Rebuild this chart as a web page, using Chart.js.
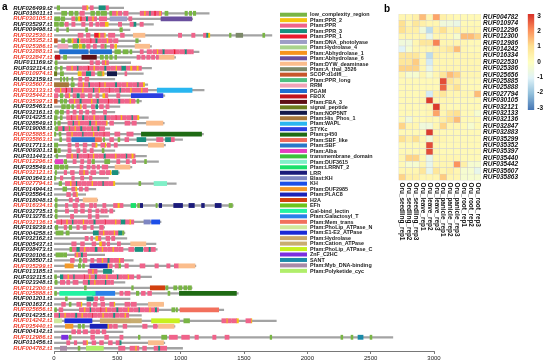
<!DOCTYPE html>
<html><head><meta charset="utf-8">
<script src="https://cdn.jsdelivr.net/npm/chart.js@4.4.1/dist/chart.umd.min.js"></script>
<style>
html,body{margin:0;padding:0;background:#fff;width:550px;height:363px;overflow:hidden}
canvas{position:absolute;top:0}
#ca{left:0}
#cb{left:380px}
#cc{left:520px}
</style></head><body>
<canvas id="ca" width="445" height="363"></canvas>
<canvas id="cb" width="145" height="363"></canvas>
<canvas id="cc" width="30" height="363"></canvas>
<script>
// ---------- Panel a data ----------
const genes = ["RUF026499.t2","RUF018011.t1","RUF030105.t1","RUF035297.t1","RUF009498.t1","RUF022530.t1","RUF035352.t1","RUF025386.t1","RUF032883.t1","RUF032847.t1","RUF011169.t2","RUF032114.t1","RUF010974.t1","RUF032159.t1","RUF035607.t1","RUF032133.t1","RUF035442.t1","RUF035397.t1","RUF035463.t1","RUF032161.t1","RUF014225.t1","RUF028549.t1","RUF019008.t1","RUF025885.t1","RUF035863.t1","RUF017713.t1","RUF009301.t1","RUF011443.t1","RUF012296.t1","RUF035549.t1","RUF032121.t1","RUF003643.t1","RUF027794.t1","RUF014944.t1","RUF035564.t1","RUF018048.t1","RUF016334.t1","RUF032735.t1","RUF013276.t3","RUF032136.t1","RUF019239.t1","RUF004258.t1","RUF032162.t1","RUF005437.t1","RUF038473.t1","RUF030106.t1","RUF038507.t1","RUF035299.t1","RUF013185.t1","RUF032115.t1","RUF023348.t1","RUF012300.t1","RUF025888.t1","RUF001201.t1","RUF001637.t1","RUF025656.t1","RUF014235.t1","RUF014242.t1","RUF035440.t1","RUF004142.t1","RUF012986.t1","RUF011456.t1","RUF004782.t1"];

const proteinLengths = [550,1225,1095,785,600,1720,685,770,1145,960,605,770,705,480,740,1185,875,690,520,480,745,870,440,1180,1015,880,480,730,825,615,515,430,965,330,250,345,1415,480,430,845,400,560,575,805,815,400,625,1120,470,770,560,1090,1455,600,865,1340,690,1755,955,545,2675,875,1015];

const proteinDomains = [
"LC 25 45;P 225 255;P2 255 268;P 285 310;P3 355 405;P 408 430",
"LC 60 100;LC 120 150;LC 165 190;P 205 240;LC 290 320;LC 335 360;LC 370 415;LC 440 455;P 460 490;P2 490 500;P 505 535;P 550 585;P 680 710;P2 710 720;P 720 750;P3 750 760;P 760 790;P1 790 800;P 800 830;P2 830 840;P 840 850;LC 876 900;LC 1034 1053;LC 1069 1087;LC 1100 1119",
"LC 5 45;LC 55 85;P 140 165;LC 170 185;P2 192 205;P1 205 215;P 215 250;P3 250 265;P 265 300;P2 300 310;P 310 337;P 358 416;PH 442 575;P 590 615;A6 845 1088",
"LC 0 35;LC 45 75;P 87 113;P 140 166;P 218 245;P 280 305;P 330 355;P 363 400;P2 402 428;P 508 534;P 600 626;P3 626 647;P 679 705",
"LC 20 35;LC 100 115;LC 250 265;LC 520 540",
"P 190 230;P 255 285;P1 320 350;P2 350 362;P 363 395;P2 395 405;P 430 480;P 525 555;DYW 626 718;P 982 1008;P 1087 1113;P 1180 1200;P3 1200 1215;P2 1215 1230;LC 1385 1398;AT 1437 1490;LC 1648 1664",
"SC 0 26;LC 60 85;LC 110 135;P2 140 150;P 150 180;P3 180 195;P2 195 205;P 210 245;P 250 285;P1 285 292;P 292 325;P3 325 340;P 340 375;P 380 415;P2 415 425;P 425 460;P 470 505;LC 645 665",
"RRM 30 110;LC 150 190;P2 200 218;LC 225 245;P 258 285;P 310 335;P 370 395;LC 400 412;P 445 470;P2 480 495;DYW 640 755",
"PG 45 270;PG 285 455;LC 480 525;LC 545 585;LC 600 615;P 680 705;P 735 770;P 780 810;P2 810 820;P 820 855;P3 855 870;P 870 905;P 910 945;P1 945 955;P 955 990;P 995 1030;P3 1030 1045;P 1045 1080;P 1085 1100",
"FB 10 47;LC 75 100;FA 220 335;LC 365 390;LC 405 425;LC 440 460;LC 480 495;P 655 680;P 692 718;P 732 758;P 770 795;P 808 825;DYW 832 948",
"LC 10 25;P 285 310;P 330 360;P 380 400;P2 400 410;P 410 430",
"LC 10 25;LC 50 65;P 100 135;P2 135 145;P 145 180;P3 180 190;P 190 225;P 230 265;P1 265 275;P 275 310;P2 310 320;P 320 355;P 360 395;P3 395 410;P 410 445;P 450 485;P2 485 495;P 495 530;P3 530 565;P 565 600;P2 600 615;P 615 650;P2 650 665;P 665 690",
"SP 0 22;LC 50 75;P2 190 215;P 220 250;P3 255 290;P 295 320;LC 345 375;P 360 380;P2 380 395;NOP 421 495;P 560 575",
"LC 50 60;LC 75 85;LC 100 110;LC 140 150;P 195 220;P 245 275",
"HP 0 115;LC 135 160;P 190 225;P2 225 235;P 235 270;P3 270 280;P 280 315;P 320 355;P1 355 362;P 362 395;P2 395 405;P 405 440;P 445 480;P3 480 495;P 495 530;P 535 570;P2 570 580;P 580 615;P 620 655;P3 655 665;P 665 700;P2 700 715",
"P 10 45;P2 45 55;P 55 90;P1 90 100;P 100 135;P3 135 145;P 145 180;P 185 220;P2 220 230;P 230 265;P 270 305;P3 305 315;P 315 350;P2 350 360;P 360 395;P 400 435;P1 435 440;P 440 475;P 480 515;P3 515 525;P 525 560;P 565 600;P2 600 610;P 610 645;P 650 685;P2 685 695;P 695 740;WA 815 1090",
"P 0 30;LC 50 70;P 90 115;P2 115 125;P 150 175;P3 180 200;P 210 240;P 270 300;P 330 355;P2 385 400;P 400 425;P 495 520;ST 610 860",
"SC 0 25;LC 50 70;LC 80 100;P 120 155;P2 155 165;P 165 200;P3 200 215;P 215 250;P 255 290;P2 290 300;P 300 335;P3 335 350;P 350 385;P 390 425;P1 425 432;P 432 465;P 470 505;P3 505 520;P 520 555;P 560 595;P2 595 605;P 605 640;LC 655 670",
"LC 60 90;LC 100 125;LC 140 155;P 180 205;P2 205 215;P 230 255;P 295 320;P3 330 345;P 360 390;P 410 435",
"LC 10 35;LC 50 75;P 100 120;P 150 175;P 200 225;P 250 275;P 300 325;P 390 415",
"LC 0 25;LC 50 65;P 100 135;P1 135 140;P 140 175;P2 175 185;P 185 220;P3 220 235;P 235 270;P 275 310;P2 310 320;P 320 355;P 360 395;P3 395 410;P 410 445;P 450 485;P1 485 490;P 490 525;P2 525 535;P 535 570;P 575 610;P3 610 620;P 620 655;P2 655 670",
"LC 0 15;LC 30 50;P 110 145;P3 145 155;P 155 190;P2 190 200;P 200 235;P 240 275;P3 275 290;P 290 325;P2 325 335;P 335 370;P 375 410;P2 410 420;P 440 470;P 560 600;P 615 650;DYW 730 860",
"LC 10 30;P 30 65;P3 65 80;P 80 115;LC 115 125;P 125 160;P2 160 170;P 170 205;P3 205 220;P 220 255;P 260 295;LC 295 305;P 305 340;P3 340 355;P 355 400",
"LC 0 15;LC 40 55;P 100 135;P2 135 145;P 145 180;P 185 220;P3 220 230;P 230 265;P 270 305;P2 305 315;P 315 350;P 355 390;P1 390 395;P 395 440;P 480 520;P 575 625;P450 690 1165",
"LC 45 60;P 100 130;SBF 140 320;SBL 320 375;LC 390 400;P 440 470;LC 505 520;P 560 590;P3 655 725;P 810 860;P3 880 920;P 920 950",
"LC 0 30;P 110 135;P 170 195;P 230 260;P 300 325;P2 325 340;P 370 400;P2 400 410;P 420 445;P 475 500;DYW 745 865",
"SP 0 20;LC 30 50;P 110 135;P 180 205;P 230 255;P 285 310;LC 380 395",
"LC 15 30;P 100 135;P2 135 145;P 145 180;P3 180 190;P 190 225;P 230 265;P1 265 270;P 270 305;P2 305 315;P 315 350;P 355 390;P3 390 405;P 405 440;P 445 480;P2 480 490;P 490 525;P 530 565;P3 565 575;P 575 610;P2 610 625;P 625 640",
"AL 10 70;LC 80 100;P 150 175;P 210 235;P 265 290;LC 300 320;LC 400 440;P 495 520;P 570 595;P 620 645;LC 715 730",
"LC 0 40;LC 50 80;LC 90 110;P 205 230;P 260 285;P 300 325;P 340 360;P 380 400;P 405 425;DYW 482 600",
"LC 10 20;P 80 100;P 130 160;P 200 230;P2 230 240;P 240 270;P 290 330;P 360 400;P 410 440;P2 440 450;P3 460 505",
"LC 0 15;P 50 70;P 140 160;P 210 235;P 280 300",
"LC 40 60;P 90 125;P2 125 135;P 135 170;P3 170 180;P 180 215;P 220 255;P 260 295;P2 295 305;P 305 340;P 345 380;P3 380 390;P 390 425;P 430 465;P2 465 480;LC 670 685;DUF36 790 890",
"LC 70 100;P 140 165;P2 170 180;P 200 225;P 245 270",
"P 100 130;P 150 175;P2 175 185",
"LC 10 25;P 120 145;P 170 195;DYW 230 340",
"LC 10 25;P 90 110;P 150 185;P 210 240;P 280 305;P 315 335;P 385 410;P 470 500;P2 500 515;P 515 545;LRN 608 645;LC 660 675;LRR 680 700;LC 805 815;LRR 830 850;LRR 945 1015;LRR 1065 1108;LRR 1165 1187;LRR 1272 1320;LC 1382 1408",
"LC 10 25;P 90 115;P 160 185;P 210 240;P 270 295;P 330 355;P 370 395;P 400 420;P 440 465",
"LC 10 25;P 130 155;P 270 295;P 330 355",
"P 20 55;P1 55 60;P 60 95;P2 95 105;P 105 140;P3 140 150;P 150 185;P 190 225;P2 225 235;P 235 270;P 275 310;P3 310 325;P 325 360;P 365 400;P1 400 405;P 405 440;P 445 480;P2 480 490;P 490 525;P3 525 560;P 560 595;P2 595 605;P 605 630;BKH 710 760;KH 770 835",
"LC 10 30;P 80 100;LC 120 140;P 180 200;P 230 255;P 290 310;P 360 390",
"LC 15 72;LC 95 120;P3 310 350;P 350 385;P2 385 395;P 395 430;P 435 470;P2 470 480;P 480 505;P3 508 535;LC 540 552",
"P 245 270;P 290 305;P2 330 345;P 345 370;P 410 440;P 455 480",
"P 140 175;P 210 240;P 300 330;P2 360 375;P 375 405;P 420 440;P 500 525;DYW 605 725",
"LC 125 140;P 140 175;P3 175 200;P 200 235;P2 235 245;P 245 280;P 285 320;P3 320 340;P 340 375;P2 375 385;P 385 420;P 425 460;P2 460 470;P 470 505;P 510 545;P 590 630;P3 640 700;P 710 745;P3 745 760;P 760 800",
"LC 15 70;LC 75 100;P 165 175;P2 175 185;P 185 210;P3 210 225;P 225 258",
"P 130 160;LC 200 215;P 230 260;P 290 315;P 340 375;P2 375 385;P 385 420;P3 420 435;P 435 470;P 475 510;P2 510 520;P 520 550",
"DUF29 87 153;LC 192 211;LC 226 240;PLA 284 421;P2 421 430;P 430 460;P 482 508;LC 508 526;P 560 587;P 679 718;P 797 824;P 890 916;P 950 980;DYW 982 1113",
"P 270 300;P2 300 310;P 310 340;P3 390 455",
"LC 5 20;P3 50 70;P 70 105;P2 105 115;P 115 150;P3 150 160;P 160 195;P 200 235;P1 235 240;P 240 275;P2 275 285;P 285 320;P3 320 335;P 335 370;P 375 410;P2 410 420;P 420 455;P 460 495;P3 495 505;P 505 540;P 545 580;P2 580 590;P 590 630;P 655 680",
"LC 8 25;P 50 85;P 100 125;P 150 190;P 230 265;P3 265 280;P 280 315;P2 315 325;P 325 360;P 365 400;P3 400 410;P 410 445;P 450 470",
"LC 240 255;LC 613 626;H2A 760 875;LC 882 900;LC 945 970;LC 985 1010;LC 1025 1050;LC 1060 1085",
"LC 5 20;GAL 45 325;GT 305 480;P 520 545;P 560 600;LC 650 670;P 690 720;P 740 770;LC 900 915;P450 990 1440",
"LC 90 105;P3 260 310;P 320 345;P 365 395",
"P 60 90;LC 120 135;P 180 210;P2 210 220;P 260 290;P 310 340;P 370 400;P 440 470;P2 470 480;P 560 600;P 610 650;DYW 745 865",
"LC 5 20;P 40 70;P 200 235;P2 235 245;P 245 280;P3 280 290;P 290 325;P 330 365;P1 365 370;P 370 405;P2 405 415;P 415 450;P 455 490;P3 490 505;P 505 540;P 545 580;P2 580 590;P 590 625;P 630 665;P3 665 675;P 675 710;P 715 750;P2 750 760;P 760 795;P3 795 810;P 810 825;LC 930 955;LC 965 975;MT 995 1300",
"P 0 35;P3 35 45;P 45 80;P2 80 90;P 90 125;P 130 165;P3 165 180;P 180 215;P2 215 225;P 225 260;P 265 300;P1 300 305;P 305 340;P 345 380;P2 380 390;P 390 425;P 430 465;P3 465 480;P 480 515;P 520 555;P2 555 565;P 565 590",
"PAN 0 60;E12 85 300;HY 365 600;CA 600 690;PAC 770 990;LC 1025 1070;P 1325 1360;P2 1360 1368;P 1368 1400;P 1405 1440;P2 1440 1456;P 1515 1555;P2 1555 1562",
"DUF29 90 150;LC 190 210;LC 225 240;PLA 285 420;P2 420 430;P 430 460;P 470 500;P 545 575;P 700 735;P 785 815;DYW 825 948",
"P 140 170;P 185 210;P 230 265;P 290 320;P 330 360;P 380 410",
"ZN 60 110;LC 120 135;P 290 320;P 400 430;P 520 545;LC 666 679;LC 850 890;P 911 974;P 1008 1069;P 1113 1140;P 1253 1279;P 1350 1382;LC 1706 1719;LC 2265 2280;LC 2345 2360;SANT 2400 2440;LC 2495 2510",
"P 100 125;P 160 180;P 230 255;P2 255 265;P 300 330;P 360 390;P 430 460;P 490 515;P3 515 530;DYW 745 865",
"MYB 50 100;LC 190 205;PK 255 390;P 510 560;P 600 640;P2 640 650;P 650 670;P 700 730;P 790 820;P3 820 835;P 835 890"
];

const domainTypes = ["low_complexity_region","Pfam:PPR_2","Pfam:PPR","Pfam:PPR_3","Pfam:PPR_1","Pfam:DNA_photolyase","Pfam:Hydrolase_4","Pfam:Abhydrolase_1","Pfam:Abhydrolase_6","Pfam:DYW_deaminase","Pfam:A_thal_3526","SCOP:d1dlfl__","Pfam:PPR_long","RRM","PGAM","FBOX","Pfam:FBA_3","signal_peptide","Pfam:NOP5NT","Pfam:His_Phos_1","Pfam:WAPL","STYKc","Pfam:p450","Pfam:SBF_like","Pfam:SBF","Pfam:Alba","transmembrane_domain","Pfam:DUF3615","Pfam:LRRNT_2","LRR","Blast:KH","KH","Pfam:DUF2985","Pfam:PLAC8","H2A","EFh","Gal-bind_lectin","Pfam:Galactosyl_T","Pfam:Mem_trans","Pfam:PhoLip_ATPase_N","Pfam:E1-E2_ATPase","Pfam:Hydrolase","Pfam:Cation_ATPase","Pfam:PhoLip_ATPase_C","ZnF_C2HC","SANT","Pfam:Myb_DNA-binding","Pfam:Polyketide_cyc"];
const domainCodes = ["LC","P2","P","P3","P1","PH","H4","A1","A6","DYW","AT","SC","PL","RRM","PG","FB","FA","SP","NOP","HP","WA","ST","P450","SBL","SBF","AL","TM","DUF36","LRN","LRR","BKH","KH","DUF29","PLA","H2A","EF","GAL","GT","MT","PAN","E12","HY","CA","PAC","ZN","SANT","MYB","PK"];
const domainPalette = ["#79b544","#f5c30f","#f0638b","#19907e","#ec1b2e","#9d9ec6","#a9d48c","#f7941d","#6a4f9e","#fbbd8c","#7b8868","#c8562c","#4fbf80","#f2a2b8","#1f6fd0","#c0141c","#5e0f14","#6b7d1e","#141a4a","#a6773a","#29b6f0","#2b3fe0","#1f6b14","#ef6a5a","#2a78c8","#e63fbf","#3cc13c","#80f0c8","#19e06a","#1b1b7a","#7e86c2","#1d4fe8","#f39a2b","#1a22b8","#d2400f","#6cc51c","#22f2a2","#2a80e8","#f2705c","#d0e89a","#1a2ad6","#c9a86a","#c8ad70","#c8f020","#7b2ee0","#1a8aa8","#a88aa8","#b0ee6a"];

// ---------- Panel b data ----------
const heatGenes = ["RUF004782","RUF010974","RUF012296","RUF012300","RUF012986","RUF014242","RUF016334","RUF022530","RUF025386","RUF025656","RUF025885","RUF025888","RUF027794","RUF030105","RUF032121","RUF032133","RUF032136","RUF032847","RUF032883","RUF035299","RUF035352","RUF035397","RUF035440","RUF035442","RUF035607","RUF035863"];
const samples = ["Oru_seedling_rep1","Oru_seedling_rep2","Oru_seedling_rep3","Oru_leave_rep1","Oru_leave_rep2","Oru_leave_rep3","Oru_panicle_rep1","Oru_panicle_rep2","Oru_panicle_rep3","Oru_root_rep1","Oru_root_rep2","Oru_root_rep3"];
const heatValues = [
[0.3,0.3,0.5,1.5,0.3,1.8,0.5,0.3,0.2,0.2,0.2,0.2],
[1.0,0.3,0.8,0.5,0.3,0.3,-0.5,-0.5,-0.7,0.2,0.2,0.2],
[1.0,0.5,0.5,-0.5,-1.5,0.5,1.0,0.3,0.5,0.3,0.3,0.3],
[0.3,0.3,0.3,0.3,-0.8,0.3,0.3,0.2,-0.3,1.5,1.5,1.2],
[-0.5,-0.5,0.3,0.8,0.8,2.2,0.3,0.3,0.3,0.3,0.2,0.2],
[-1.0,-0.3,0.3,0.3,0.3,0.5,0.5,0.8,1.5,0.3,0.2,0.2],
[0.8,0.8,0.8,0.3,-1.5,0.5,0.3,0.3,0.3,0.3,0.3,0.3],
[0.8,0.8,1.3,0.3,-1.2,0.3,0.3,0.3,0.3,0.3,0.3,0.3],
[1.2,1.2,1.2,0.3,-0.8,0.3,0.3,0.3,0.3,0.3,0.3,0.3],
[0.3,-0.3,-0.3,0.3,-0.3,0.3,0.8,1.5,1.2,0.3,0.3,0.3],
[0.2,0.2,0.2,0.2,0.2,0.2,2.8,0.8,0.5,0.2,0.2,0.2],
[0.2,0.2,0.2,0.2,0.2,0.2,2.5,0.5,1.0,0.2,0.2,0.2],
[0.2,0.2,0.2,0.3,-1.2,0.5,0.8,0.3,0.3,0.3,0.3,1.5],
[0.2,0.2,0.2,0.3,3.0,0.3,0.3,0.3,0.2,0.2,0.2,0.2],
[0.2,0.2,0.2,0.2,0.3,3.0,0.3,0.2,0.2,0.2,0.2,0.2],
[0.2,0.2,0.2,0.2,0.3,1.8,0.3,0.8,1.0,0.2,0.2,-0.3],
[0.2,-0.5,0.2,0.2,0.3,0.2,0.5,1.0,1.5,0.2,0.2,0.2],
[1.2,0.3,0.3,-0.5,-0.5,0.3,1.2,0.3,0.3,0.2,-0.3,0.2],
[0.2,0.2,0.2,0.2,3.0,0.3,0.2,0.2,0.2,0.2,0.2,0.2],
[1.0,0.5,1.0,0.3,-0.5,0.5,0.3,0.2,0.2,0.2,0.2,0.2],
[0.2,0.2,0.2,0.2,2.8,0.3,0.2,0.2,0.2,0.2,0.2,0.2],
[0.2,0.2,0.2,0.2,2.8,0.3,0.2,0.2,0.2,0.2,0.2,0.2],
[0.3,1.2,1.2,0.3,-0.8,0.3,0.3,0.3,0.3,0.2,0.2,0.2],
[0.2,-0.3,-0.3,0.3,-0.8,0.3,0.3,0.3,2.0,0.5,-0.3,-0.3],
[0.3,0.3,0.3,0.8,-0.8,0.8,0.3,0.5,0.3,-0.3,-0.3,-0.8],
[1.2,0.5,0.5,0.3,0.3,0.3,1.3,0.3,0.3,-0.3,-0.3,-0.3]
];
const colorbarTicks = [3,2,1,0,-1,-2,-3];
const heatMin = -3.13, heatMax = 3.13;
const heatPalette = ["#4575B4","#91BFDB","#E0F3F8","#FFFFBF","#FEE090","#FC8D59","#D73027"];

// ---------- helpers ----------
function hexToRgb(h){return [parseInt(h.slice(1,3),16),parseInt(h.slice(3,5),16),parseInt(h.slice(5,7),16)];}
function heatColor(v){
  let t=(v-heatMin)/(heatMax-heatMin); t=Math.max(0,Math.min(1,t));
  const p=t*(heatPalette.length-1); const i=Math.min(Math.floor(p),heatPalette.length-2); const f=p-i;
  const a=hexToRgb(heatPalette[i]), b=hexToRgb(heatPalette[i+1]);
  return `rgb(${Math.round(a[0]+(b[0]-a[0])*f)},${Math.round(a[1]+(b[1]-a[1])*f)},${Math.round(a[2]+(b[2]-a[2])*f)})`;
}
const RED = "#ee3b28";
const heatSet = new Set(heatGenes);
const isHighlighted = g => heatSet.has(g.split('.')[0]);

// ---------- Panel a ----------
const parsed = proteinDomains.map(s => s.split(';').map(x => {
  const [c,a,b] = x.trim().split(/\s+/); return {t: domainCodes.indexOf(c), s:+a, e:+b};
}));
const maxSlots = Math.max(...parsed.map(d => d.length));
const datasetsA = [{
  data: proteinLengths.map(L => [0, L]),
  backgroundColor: '#a3a3a3', barThickness: 1.6, grouped: false, order: 5
}];
for (let k=0;k<maxSlots;k++){
  datasetsA.push({
    data: parsed.map(d => d[k] ? [d[k].s, d[k].e] : null),
    backgroundColor: parsed.map(d => d[k] ? domainPalette[d[k].t] : 'rgba(0,0,0,0)'),
    barThickness: 4.2, grouped: false, order: 1
  });
}
const legendPlugin = {
  id: 'domainLegend',
  afterDraw(chart){
    const ctx = chart.ctx; ctx.save();
    ctx.font = 'bold 5.4px "Liberation Sans", Arial, sans-serif';
    ctx.textBaseline = 'middle'; ctx.textAlign = 'left';
    domainTypes.forEach((name,i) => {
      const y = 14.7 + i*5.45;
      ctx.fillStyle = domainPalette[i];
      ctx.fillRect(280, y-2, 27, 4);
      ctx.fillStyle = '#222';
      ctx.fillText(name, 310, y+0.3);
    });
    ctx.font = 'bold 10px "Liberation Sans", Arial, sans-serif';
    ctx.fillStyle = '#000'; ctx.textBaseline='alphabetic';
    ctx.fillText('a', 2, 10);
    ctx.restore();
  }
};
new Chart(document.getElementById('ca'), {
  type: 'bar',
  data: { labels: genes, datasets: datasetsA },
  options: {
    indexAxis: 'y', responsive: false, animation: false, devicePixelRatio: 1,
    layout: { padding: { top: 4.5, right: 11, left: 0, bottom: 0 } },
    plugins: { legend: { display: false }, tooltip: { enabled: false } },
    scales: {
      x: { type: 'linear', min: 0, max: 3000,
        ticks: { stepSize: 500, maxRotation: 0, padding: 1, color: '#222',
          callback: v => String(v),
          font: { size: 6, family: '"Liberation Sans", Arial, sans-serif' } },
        grid: { drawOnChartArea: false, drawTicks: true, tickLength: 3, color: '#555', lineWidth: 0.8 },
        border: { display: true, color: '#555', width: 0.8 },
        afterFit: s => { s.height = 12; } },
      y: { type: 'category',
        ticks: { autoSkip: false, padding: 1.5,
          color: c => isHighlighted(genes[c.index]) ? RED : '#111',
          font: { size: 6, weight: 'bold', style: 'italic', family: '"Liberation Sans", Arial, sans-serif' } },
        grid: { display: false, drawTicks: false },
        border: { display: false },
        afterFit: s => { s.width = 54; } }
    }
  },
  plugins: [legendPlugin]
});

// ---------- Panel b ----------
const datasetsB = samples.map((s,j) => ({
  data: heatGenes.map(() => [j, j+1]),
  backgroundColor: heatValues.map(row => heatColor(row[j])),
  borderColor: '#d0d0d0', borderWidth: 0.5, borderSkipped: false,
  barPercentage: 1, categoryPercentage: 1, grouped: false
}));
const colLabelPlugin = {
  id: 'colLabels',
  afterDraw(chart){
    const ctx = chart.ctx, xs = chart.scales.x, bottom = chart.chartArea.bottom;
    ctx.save();
    ctx.font = 'bold 6.4px "Liberation Sans", Arial, sans-serif';
    ctx.fillStyle = '#111'; ctx.textAlign = 'left'; ctx.textBaseline = 'middle';
    samples.forEach((s,j) => {
      const x = xs.getPixelForValue(j+0.5);
      ctx.save(); ctx.translate(x, bottom+2); ctx.rotate(Math.PI/2);
      ctx.fillText(s, 0, 0); ctx.restore();
    });
    ctx.font = 'bold 10px "Liberation Sans", Arial, sans-serif';
    ctx.fillStyle = '#000'; ctx.textBaseline='alphabetic';
    ctx.fillText('b', 4, 12);
    ctx.restore();
  }
};
new Chart(document.getElementById('cb'), {
  type: 'bar',
  data: { labels: heatGenes, datasets: datasetsB },
  options: {
    indexAxis: 'y', responsive: false, animation: false, devicePixelRatio: 1,
    layout: { padding: { top: 14, bottom: 182.5, left: 18.5, right: 0 } },
    plugins: { legend: { display: false }, tooltip: { enabled: false } },
    scales: {
      x: { type: 'linear', min: 0, max: 12, display: false },
      y: { type: 'category', position: 'right',
        ticks: { autoSkip: false, padding: 2, color: '#111',
          font: { size: 6.5, weight: 'bold', style: 'italic', family: '"Liberation Sans", Arial, sans-serif' } },
        grid: { display: false, drawTicks: false }, border: { display: false },
        afterFit: s => { s.width = 44; } }
    }
  },
  plugins: [colLabelPlugin]
});

// ---------- Colour bar ----------
new Chart(document.getElementById('cc'), {
  type: 'bar',
  data: { labels: [''], datasets: [{
    data: [[heatMin, heatMax]],
    barPercentage: 1, categoryPercentage: 1,
    backgroundColor: (c) => {
      const ch = c.chart; if (!ch.chartArea) return '#fff';
      const ys = ch.scales.y;
      const g = ch.ctx.createLinearGradient(0, ys.getPixelForValue(heatMin), 0, ys.getPixelForValue(heatMax));
      heatPalette.forEach((col,i) => g.addColorStop(i/(heatPalette.length-1), col));
      return g;
    }
  }]},
  options: {
    responsive: false, animation: false, devicePixelRatio: 1,
    layout: { padding: { top: 14, bottom: 253, left: 7.7, right: 0 } },
    plugins: { legend: { display: false }, tooltip: { enabled: false } },
    scales: {
      x: { display: false },
      y: { type: 'linear', position: 'right', min: heatMin, max: heatMax,
        afterBuildTicks: s => { s.ticks = colorbarTicks.map(v => ({ value: v })); },
        ticks: { padding: 3, color: '#111',
          font: { size: 6.5, weight: 'bold', family: '"Liberation Sans", Arial, sans-serif' } },
        grid: { display: false, drawTicks: false }, border: { display: false },
        afterFit: s => { s.width = 15.7; } }
    }
  }
});
</script>
</body></html>
